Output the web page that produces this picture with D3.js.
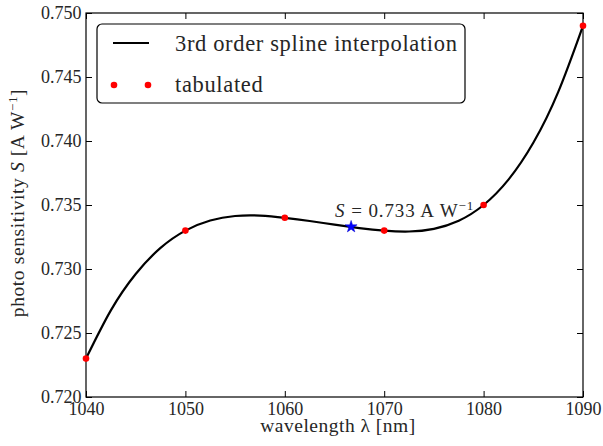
<!DOCTYPE html>
<html>
<head>
<meta charset="utf-8">
<script src="https://cdn.jsdelivr.net/npm/d3@7"></script>
<style>
  html, body { margin: 0; padding: 0; background: #fff; }
  svg { display: block; }
  svg text { font-family: "Liberation Serif", "DejaVu Serif", serif !important; }
</style>
</head>
<body>
<svg id="chart" width="603" height="446"></svg>
<script>
// Tabulated photo sensitivity values
const wavelengths = [1040, 1050, 1060, 1070, 1080, 1090];
const sensitivity = [0.723, 0.733, 0.734, 0.733, 0.735, 0.749];

// Cubic spline curve, sampled every 2.5 nm
const splineWavelengths = [1040, 1042.5, 1045, 1047.5, 1050, 1052.5, 1055, 1057.5, 1060, 1062.5,
  1065, 1067.5, 1070, 1072.5, 1075, 1077.5, 1080, 1082.5, 1085, 1087.5, 1090];
const splineSensitivity = [0.7230, 0.72677, 0.72961, 0.73165, 0.7330, 0.73379, 0.73414, 0.73417,
  0.7340, 0.73375, 0.73346, 0.73320, 0.7330, 0.73293, 0.73314, 0.73377, 0.7350, 0.73698,
  0.73986, 0.74382, 0.7490];

// Operating point
const markWavelength = 1066.67;
const markSensitivity = 0.7333;

const xTicks = [1040, 1050, 1060, 1070, 1080, 1090];
const yTicks = [0.720, 0.725, 0.730, 0.735, 0.740, 0.745, 0.750];

const svg = d3.select("#chart");
const plotL = 86, plotR = 583, plotT = 13, plotB = 397;

const x = d3.scaleLinear().domain([1040, 1090]).range([plotL, plotR]);
const y = d3.scaleLinear().domain([0.720, 0.750]).range([plotB, plotT]);

const tickLen = 6;
const tickFont = 18;
const textColor = "#262626";

// Axes with inward ticks on all four sides
const axisStyle = g => {
  g.select(".domain").remove();
  g.selectAll(".tick line").attr("stroke", "#000").attr("stroke-width", 1);
  g.selectAll(".tick text").attr("fill", textColor).attr("font-size", tickFont);
};

svg.append("g").attr("transform", `translate(0,${plotB})`)
  .call(d3.axisBottom(x).tickValues(xTicks).tickFormat(d3.format("d"))
    .tickSizeInner(-tickLen).tickSizeOuter(0).tickPadding(5.5))
  .call(axisStyle);
svg.append("g").attr("transform", `translate(0,${plotT})`)
  .call(d3.axisTop(x).tickValues(xTicks).tickFormat("")
    .tickSizeInner(-tickLen).tickSizeOuter(0))
  .call(axisStyle);
svg.append("g").attr("transform", `translate(${plotL},0)`)
  .call(d3.axisLeft(y).tickValues(yTicks).tickFormat(d3.format(".3f"))
    .tickSizeInner(-tickLen).tickSizeOuter(0).tickPadding(4.5))
  .call(axisStyle);
svg.append("g").attr("transform", `translate(${plotR},0)`)
  .call(d3.axisRight(y).tickValues(yTicks).tickFormat("")
    .tickSizeInner(-tickLen).tickSizeOuter(0))
  .call(axisStyle);

// Frame
svg.append("rect")
  .attr("x", plotL).attr("y", plotT)
  .attr("width", plotR - plotL).attr("height", plotB - plotT)
  .attr("fill", "none").attr("stroke", "#000").attr("stroke-width", 1.2);

// Spline curve
const splinePts = splineWavelengths.map((w, i) => [w, splineSensitivity[i]]);
const line = d3.line().x(d => x(d[0])).y(d => y(d[1])).curve(d3.curveNatural);
svg.append("path")
  .attr("d", line(splinePts))
  .attr("fill", "none").attr("stroke", "#000").attr("stroke-width", 2.2);

// Tabulated points
svg.append("g").selectAll("circle")
  .data(wavelengths.map((w, i) => [w, sensitivity[i]]))
  .join("circle")
  .attr("cx", d => x(d[0])).attr("cy", d => y(d[1]))
  .attr("r", 3.3).attr("fill", "#ff0000");

// Operating point marker and annotation
const mx = x(markWavelength), my = y(markSensitivity);
svg.append("path")
  .attr("d", d3.symbol().type(d3.symbolStar).size(45)())
  .attr("transform", `translate(${mx},${my})`)
  .attr("fill", "#0000ff").attr("stroke", "#0000cc").attr("stroke-width", 0.5);

const ann = svg.append("text")
  .attr("x", mx - 16).attr("y", my - 10)
  .attr("font-size", 19).attr("letter-spacing", 0.9).attr("fill", textColor);
ann.append("tspan").attr("font-style", "italic").text("S");
ann.append("tspan").text(" = " + d3.format(".3f")(markSensitivity) + "\u2009A\u2009W");
ann.append("tspan").attr("font-size", 13).attr("dy", -7).text("\u22121");

// Axis labels
svg.append("text")
  .attr("x", 338).attr("y", 432)
  .attr("text-anchor", "middle").attr("font-size", 19.5).attr("letter-spacing", 0.5)
  .attr("fill", textColor)
  .text("wavelength \u03bb [nm]");

const yl = svg.append("text")
  .attr("transform", `translate(24,${(plotT + plotB) / 2 - 2}) rotate(-90)`)
  .attr("text-anchor", "middle").attr("font-size", 19.5).attr("letter-spacing", 0.6)
  .attr("fill", textColor);
yl.append("tspan").text("photo sensitivity ");
yl.append("tspan").attr("font-style", "italic").text("S");
yl.append("tspan").text(" [A\u2009W");
yl.append("tspan").attr("font-size", 13).attr("dy", -7).text("\u22121");
yl.append("tspan").attr("dy", 7).text("]");

// Legend
const lg = svg.append("g");
lg.append("rect")
  .attr("x", 97).attr("y", 24).attr("width", 368).attr("height", 79)
  .attr("rx", 5).attr("ry", 5)
  .attr("fill", "#fff").attr("stroke", "#000").attr("stroke-width", 1.2);
lg.append("line")
  .attr("x1", 113).attr("x2", 149).attr("y1", 43).attr("y2", 43)
  .attr("stroke", "#000").attr("stroke-width", 2.2);
lg.selectAll("circle.leg").data([114, 148]).join("circle")
  .attr("class", "leg").attr("cx", d => d).attr("cy", 85)
  .attr("r", 3.3).attr("fill", "#ff0000");
lg.append("text").attr("x", 175).attr("y", 51)
  .attr("font-size", 22.5).attr("letter-spacing", 0.65).attr("fill", textColor)
  .text("3rd order spline interpolation");
lg.append("text").attr("x", 175).attr("y", 92)
  .attr("font-size", 22.5).attr("letter-spacing", 0.65).attr("fill", textColor)
  .text("tabulated");
</script>
</body>
</html>
